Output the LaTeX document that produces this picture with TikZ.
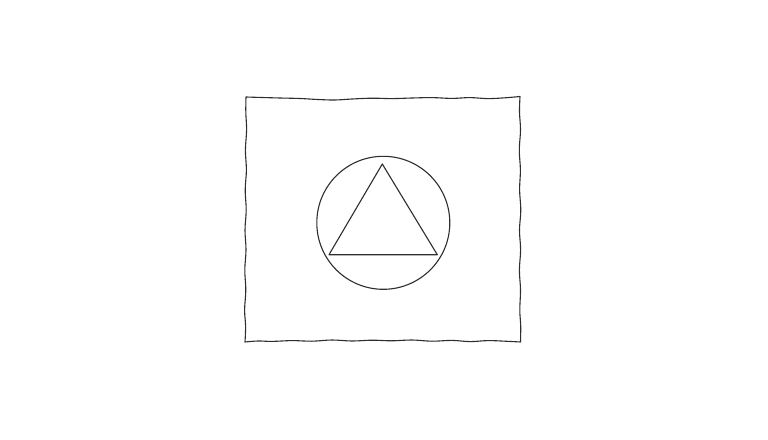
\documentclass[tikz,border=0pt]{standalone}
\begin{document}
\begin{tikzpicture}[x=1pt,y=-1pt,
  ink/.style={draw=black!82, line width=1.1pt, line join=round, line cap=round}]
\useasboundingbox[fill=white] (0,0) rectangle (768,439);
% hand-drawn square
\draw[ink] plot[smooth, tension=0.6] coordinates {
  (246,97) (262,97.5) (280,98) (300,98.5) (318,99.5) (335,100) (352,99) (372,98.2) (392,98.6) (412,98) (432,97.6) (452,98.4) (470,97.6) (488,98.6) (505,97.8) (520,96.5)}
  -- plot[smooth, tension=0.6] coordinates {
  (520,96.5) (519.5,112) (520.5,130) (519.3,150) (520.4,170) (519.6,190) (520.8,210) (519.5,230) (520.6,250) (519.4,270) (520.5,290) (519.8,310) (520.7,326) (520.5,342)}
  -- plot[smooth, tension=0.6] coordinates {
  (520.5,342) (505,341.2) (488,340.6) (470,341.6) (452,340.4) (432,341.2) (412,340) (392,340.8) (372,340.2) (352,341) (332,340) (312,341.2) (292,340.6) (272,341.4) (258,341) (245,342)}
  -- plot[smooth, tension=0.6] coordinates {
  (245,342) (245.6,326) (244.6,310) (245.8,290) (244.8,270) (246,250) (245,230) (246.2,210) (245.2,190) (246.4,170) (245.4,150) (246.6,130) (245.8,112) (246,97)};
% circle
\draw[ink] (383.3,222.8) circle[radius=66.5];
% triangle
\draw[ink] (382.3,164) -- (437.3,254.7) -- (329,254.7) -- cycle;
\end{tikzpicture}
\end{document}
